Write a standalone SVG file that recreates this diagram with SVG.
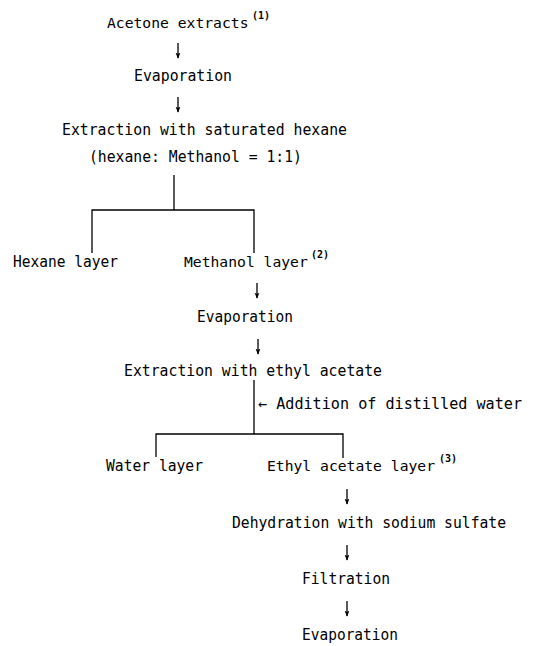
<svg xmlns="http://www.w3.org/2000/svg" width="537" height="646" viewBox="0 0 537 646">
<style>
text { font-family: "DejaVu Sans Mono", "Liberation Mono", monospace; font-size: 15.5px; fill: #000; }
text.s { font-size: 14.7px; }
text.sup { font-size: 10px; font-weight: bold; }
.ln { stroke: #000; stroke-width: 1.3; fill: none; }
.ar { stroke: #000; stroke-width: 1.3; fill: none; marker-end: url(#ah); }
</style>
<defs>
<marker id="ah" viewBox="0 0 8 8" refX="7" refY="4" markerWidth="6" markerHeight="6" markerUnits="userSpaceOnUse" orient="auto">
<path d="M0,0.8 L8,4 L0,7.2 L1.5,4 z" fill="#000"/>
</marker>
</defs>
<rect width="537" height="646" fill="#fff"/>
<g id="connectors">
<line class="ar" x1="178" y1="43" x2="178" y2="58"/>
<line class="ar" x1="178" y1="97" x2="178" y2="112"/>
<polyline class="ln" points="174,175 174,210"/>
<polyline class="ln" points="92,253 92,210 254,210 254,253"/>
<line class="ar" x1="257" y1="283" x2="257" y2="298"/>
<line class="ar" x1="258" y1="339" x2="258" y2="354"/>
<polyline class="ln" points="254,380 254,434"/>
<polyline class="ln" points="156,457 156,434 343,434 343,458"/>
<line class="ar" x1="347" y1="489" x2="347" y2="504"/>
<line class="ar" x1="347" y1="545" x2="347" y2="560"/>
<line class="ar" x1="347" y1="601" x2="347" y2="616"/>
</g>
<g id="n1"><text class="s" x="107" y="28">Acetone extracts</text><text class="sup" x="252" y="19">(1)</text></g>
<g id="n2"><text x="134" y="81" textLength="98" lengthAdjust="spacingAndGlyphs">Evaporation</text></g>
<g id="n3"><text x="62" y="135" textLength="285" lengthAdjust="spacingAndGlyphs">Extraction with saturated hexane</text><text x="89" y="162" textLength="213" lengthAdjust="spacingAndGlyphs">(hexane: Methanol = 1:1)</text></g>
<g id="n4"><text x="13" y="267" textLength="105" lengthAdjust="spacingAndGlyphs">Hexane layer</text></g>
<g id="n5"><text class="s" x="184" y="267">Methanol layer</text><text class="sup" x="311" y="258">(2)</text></g>
<g id="n6"><text x="197" y="322" textLength="96" lengthAdjust="spacingAndGlyphs">Evaporation</text></g>
<g id="n7"><text x="124" y="376" textLength="258" lengthAdjust="spacingAndGlyphs">Extraction with ethyl acetate</text></g>
<g id="n8"><text x="258" y="409" textLength="264" lengthAdjust="spacingAndGlyphs">← Addition of distilled water</text></g>
<g id="n9"><text x="106" y="471" textLength="97" lengthAdjust="spacingAndGlyphs">Water layer</text></g>
<g id="n10"><text class="s" x="267" y="471">Ethyl acetate layer</text><text class="sup" x="439" y="462">(3)</text></g>
<g id="n11"><text x="232" y="528" textLength="274" lengthAdjust="spacingAndGlyphs">Dehydration with sodium sulfate</text></g>
<g id="n12"><text x="302" y="584" textLength="88" lengthAdjust="spacingAndGlyphs">Filtration</text></g>
<g id="n13"><text x="302" y="640" textLength="96" lengthAdjust="spacingAndGlyphs">Evaporation</text></g>
</svg>
